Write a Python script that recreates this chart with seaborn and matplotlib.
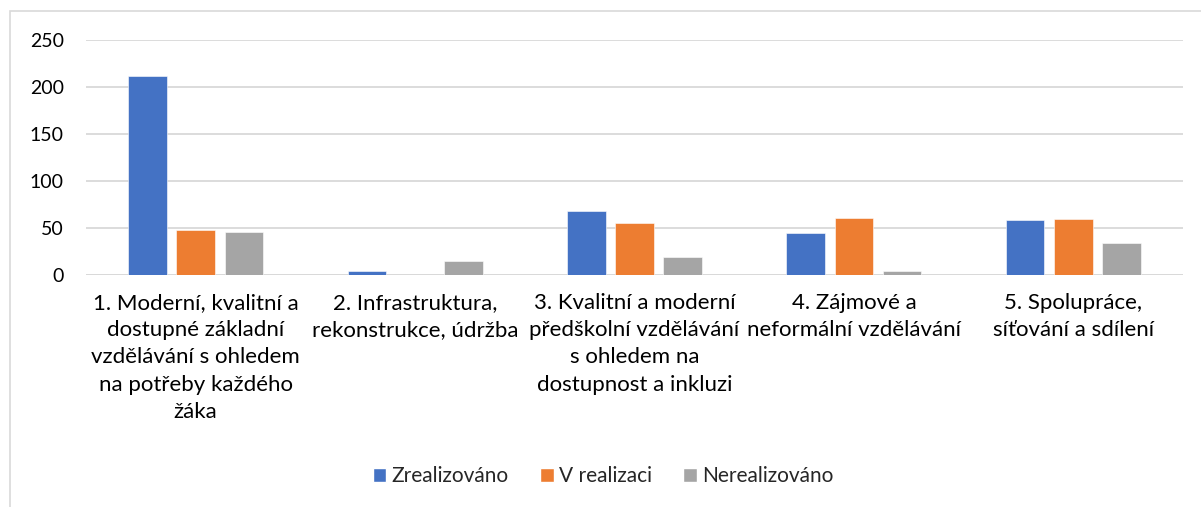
import matplotlib
matplotlib.use('Agg')
import matplotlib.pyplot as plt
import seaborn as sns
import pandas as pd
from matplotlib.patches import Rectangle, Patch

# ---------- data ----------
priority = [
    '1. Moderní, kvalitní a\ndostupné základní\nvzdělávání s ohledem\nna potřeby každého\nžáka',
    '2. Infrastruktura,\nrekonstrukce, údržba',
    '3. Kvalitní a moderní\npředškolní vzdělávání\ns ohledem na\ndostupnost a inkluzi',
    '4. Zájmové a\nneformální vzdělávání',
    '5. Spolupráce,\nsíťování a sdílení',
]
status = ['Zrealizováno', 'V realizaci', 'Nerealizováno']
zrealizovano = [212, 4, 68, 44, 58]
v_realizaci = [48, 0, 55, 60, 59]
nerealizovano = [46, 15, 19, 4, 34]

colors = ['#4472C4', '#ED7D31', '#A5A5A5']

df = pd.DataFrame({
    'priorita': priority * 3,
    'stav': [s for s in status for _ in priority],
    'pocet': zrealizovano + v_realizaci + nerealizovano,
})

sns.set_style('white')
plt.rcParams['font.family'] = ['Lato', 'DejaVu Sans']

fig = plt.figure(figsize=(12.01, 5.07), dpi=100)
ax = fig.add_axes([86/1201, 1 - 274.7/507, 1097/1201, 234.7/507])

# outer chart frame (runs off the right and bottom edge)
fig.patches.append(Rectangle((10/1201, -0.05), 1.2, 1 - 10.5/507 + 0.05,
                             transform=fig.transFigure, fill=False,
                             edgecolor='#d9d9d9', lw=1.2))

sns.barplot(data=df, x='priorita', y='pocet', hue='stav', palette=colors,
            saturation=1, width=0.66, gap=0.2, ax=ax, legend=False, zorder=3,
            edgecolor='white', linewidth=0.4)

ax.set_ylim(0, 250)
ax.set_yticks(range(0, 251, 50))
ax.yaxis.grid(True, color='#d9d9d9', lw=1.3, zorder=0)
ax.set_axisbelow(True)
for s in ax.spines.values():
    s.set_visible(False)
ax.axhline(0, color='#d9d9d9', lw=1.3, zorder=1)
ax.set_xlabel('')
ax.set_ylabel('')
ax.tick_params(axis='both', length=0, colors='#000000')
ax.tick_params(axis='y', pad=16, labelsize=14)
ax.tick_params(axis='x', pad=13, labelsize=16)
for lab in ax.get_xticklabels():
    lab.set_linespacing(1.46)
    lab.set_verticalalignment('top')
    lab.set_horizontalalignment('center')

handles = [Patch(facecolor=c, label=s) for c, s in zip(colors, status)]
fig.legend(handles=handles, loc='center', bbox_to_anchor=(603/1201, 1 - 476/507),
           ncol=3, frameon=False, fontsize=15, handlelength=0.65, handleheight=0.65,
           handletextpad=0.25, columnspacing=1.5)

fig.savefig('out.png', dpi=100)
